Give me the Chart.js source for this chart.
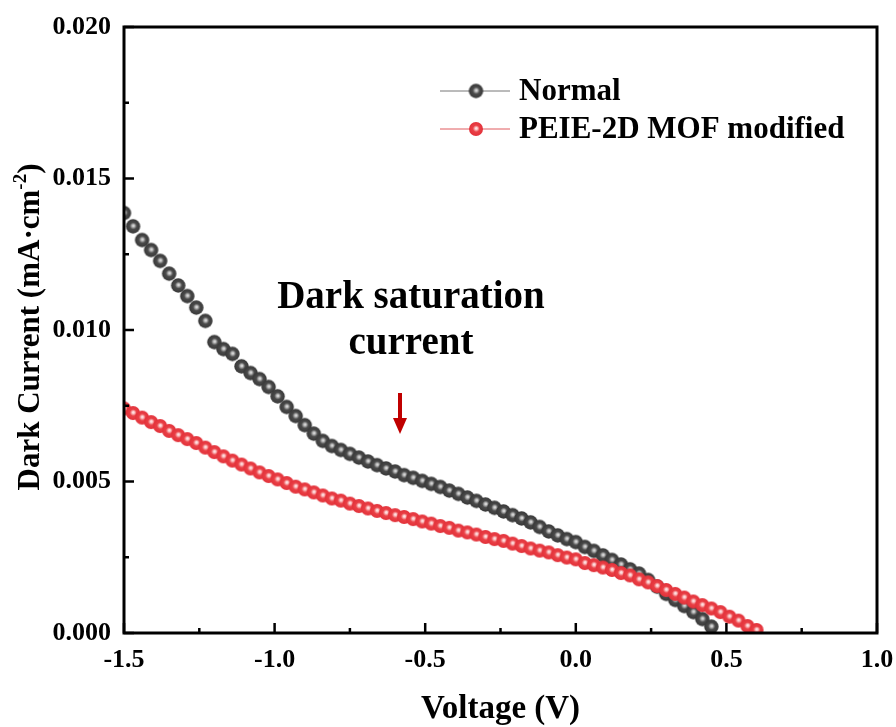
<!DOCTYPE html>
<html>
<head>
<meta charset="utf-8">
<script src="https://cdn.jsdelivr.net/npm/chart.js@4.4.1/dist/chart.umd.min.js"></script>
<style>
  html, body { margin: 0; padding: 0; background: #fff; }
  #wrap { width: 896px; height: 727px; }
</style>
</head>
<body>
<div id="wrap"><canvas id="darkChart" width="896" height="727"></canvas></div>
<script>
// Voltage grid (V)
const voltage = [
  -1.50, -1.47, -1.44, -1.41, -1.38, -1.35, -1.32, -1.29, -1.26, -1.23,
  -1.20, -1.17, -1.14, -1.11, -1.08, -1.05, -1.02, -0.99, -0.96, -0.93,
  -0.90, -0.87, -0.84, -0.81, -0.78, -0.75, -0.72, -0.69, -0.66, -0.63,
  -0.60, -0.57, -0.54, -0.51, -0.48, -0.45, -0.42, -0.39, -0.36, -0.33,
  -0.30, -0.27, -0.24, -0.21, -0.18, -0.15, -0.12, -0.09, -0.06, -0.03,
   0.00,  0.03,  0.06,  0.09,  0.12,  0.15,  0.18,  0.21,  0.24,  0.27,
   0.30,  0.33,  0.36,  0.39,  0.42,  0.45,  0.48,  0.51,  0.54,  0.57,
   0.60
];

// Dark current, normal device (mA/cm2)
const normalCurrent = [
  0.01386, 0.01342, 0.01297, 0.01264, 0.01228, 0.01186, 0.01147, 0.01112, 0.01074, 0.01030,
  0.00960, 0.00937, 0.00921, 0.00880, 0.00858, 0.00838, 0.00812, 0.00781, 0.00746, 0.00716,
  0.00686, 0.00658, 0.00634, 0.00617, 0.00604, 0.00591, 0.00579, 0.00566, 0.00554, 0.00543,
  0.00533, 0.00521, 0.00512, 0.00502, 0.00492, 0.00482, 0.00470, 0.00459, 0.00447, 0.00436,
  0.00424, 0.00413, 0.00401, 0.00389, 0.00378, 0.00365, 0.00350, 0.00335, 0.00322, 0.00310,
  0.00300, 0.00284, 0.00271, 0.00256, 0.00241, 0.00226, 0.00210, 0.00196, 0.00175, 0.00153,
  0.00129, 0.00109, 0.00089, 0.00069, 0.00046, 0.00021
];

// Dark current, PEIE-2D MOF modified device (mA/cm2)
const modifiedCurrent = [
  0.00741, 0.00726, 0.00711, 0.00696, 0.00683, 0.00667, 0.00653, 0.00640, 0.00627, 0.00612,
  0.00597, 0.00583, 0.00569, 0.00556, 0.00543, 0.00530, 0.00518, 0.00507, 0.00495, 0.00483,
  0.00474, 0.00464, 0.00454, 0.00444, 0.00437, 0.00427, 0.00419, 0.00411, 0.00403, 0.00396,
  0.00389, 0.00383, 0.00376, 0.00368, 0.00361, 0.00353, 0.00347, 0.00338, 0.00332, 0.00325,
  0.00317, 0.00310, 0.00304, 0.00295, 0.00287, 0.00279, 0.00272, 0.00266, 0.00257, 0.00249,
  0.00243, 0.00231, 0.00224, 0.00216, 0.00208, 0.00198, 0.00190, 0.00177, 0.00167, 0.00155,
  0.00142, 0.00129, 0.00117, 0.00104, 0.00092, 0.00081, 0.00069, 0.00054, 0.00041, 0.00023,
  0.00010
];

const seriesNames = ['Normal', 'PEIE-2D MOF modified'];
const xTicks = [-1.5, -1.0, -0.5, 0.0, 0.5, 1.0];
const yTicks = [0.000, 0.005, 0.010, 0.015, 0.020];

const FONT = '"Liberation Serif", "Times New Roman", serif';

// shaded ball used as the marker
function makeBall(r, edge, mid, light) {
  const c = document.createElement('canvas');
  const s = Math.ceil(r * 2) + 2;
  c.width = s; c.height = s;
  const g = c.getContext('2d');
  const cx = s / 2, cy = s / 2;
  const grad = g.createRadialGradient(cx + r * 0.05, cy - r * 0.1, 0, cx, cy, r);
  grad.addColorStop(0, light);
  grad.addColorStop(0.12, light);
  grad.addColorStop(0.48, mid);
  grad.addColorStop(1, edge);
  g.fillStyle = grad;
  g.beginPath();
  g.arc(cx, cy, r, 0, Math.PI * 2);
  g.fill();
  return c;
}

const greyBall = makeBall(7.2, '#383838', '#4a4a4a', '#d4d4d4');
const redBall = makeBall(7.0, '#e2313a', '#ea4046', '#ffe0e0');

function toPoints(ys) {
  return ys.map((y, i) => ({ x: voltage[i], y: y }));
}

// inward ticks, frame, legend, annotation and y title
const decorPlugin = {
  id: 'decor',
  afterDraw(chart) {
    const ctx = chart.ctx;
    const xs = chart.scales.x, ys = chart.scales.y;
    const a = chart.chartArea;
    ctx.save();
    ctx.strokeStyle = '#000';
    ctx.lineWidth = 3;
    ctx.strokeRect(a.left, a.top, a.right - a.left, a.bottom - a.top);

    // x ticks
    ctx.lineWidth = 2.5;
    for (let v = -1.5; v <= 1.0001; v += 0.25) {
      const px = xs.getPixelForValue(v);
      const major = Math.abs(v * 2 - Math.round(v * 2)) < 1e-6;
      const len = major ? 10 : 5;
      ctx.beginPath();
      ctx.moveTo(px, a.bottom);
      ctx.lineTo(px, a.bottom - len);
      ctx.stroke();
    }
    // y ticks
    for (let v = 0; v <= 0.02001; v += 0.0025) {
      const py = ys.getPixelForValue(v);
      const major = Math.abs(v / 0.005 - Math.round(v / 0.005)) < 1e-6;
      const len = major ? 10 : 5;
      ctx.beginPath();
      ctx.moveTo(a.left, py);
      ctx.lineTo(a.left + len, py);
      ctx.stroke();
    }

    // legend
    const items = [
      { img: greyBall, line: '#777777', y: 91 },
      { img: redBall, line: '#e05a5e', y: 129 }
    ];
    items.forEach((it, i) => {
      ctx.strokeStyle = it.line;
      ctx.lineWidth = 1;
      ctx.beginPath();
      ctx.moveTo(440, it.y);
      ctx.lineTo(510, it.y);
      ctx.stroke();
      ctx.drawImage(it.img, 476 - it.img.width / 2, it.y - it.img.height / 2);
      ctx.fillStyle = '#000';
      ctx.font = 'bold 31px ' + FONT;
      ctx.textAlign = 'left';
      ctx.textBaseline = 'middle';
      ctx.fillText(seriesNames[i], 519, it.y + 1);
    });

    // annotation
    ctx.font = 'bold 39px ' + FONT;
    ctx.textAlign = 'center';
    ctx.textBaseline = 'middle';
    ctx.fillText('Dark saturation', 411, 298);
    ctx.fillText('current', 411, 344);

    // arrow
    const ax = 400;
    ctx.fillStyle = '#c00000';
    ctx.fillRect(ax - 2, 393, 4, 27);
    ctx.beginPath();
    ctx.moveTo(ax - 7, 418);
    ctx.lineTo(ax + 7, 418);
    ctx.lineTo(ax, 434);
    ctx.closePath();
    ctx.fill();

    // y title with superscript
    ctx.fillStyle = '#000';
    ctx.translate(31, 327);
    ctx.rotate(-Math.PI / 2);
    const big = 'bold 31px ' + FONT, small = 'bold 19px ' + FONT;
    const p1 = 'Dark Current (mA\u00b7cm', p2 = '-2', p3 = ')';
    ctx.font = big;
    const w1 = ctx.measureText(p1).width, w3 = ctx.measureText(p3).width;
    ctx.font = small;
    const w2 = ctx.measureText(p2).width;
    let x0 = -(w1 + w2 + w3) / 2;
    ctx.textAlign = 'left';
    ctx.textBaseline = 'middle';
    ctx.font = big;
    ctx.fillText(p1, x0, 0);
    ctx.font = small;
    ctx.fillText(p2, x0 + w1, -10);
    ctx.font = big;
    ctx.fillText(p3, x0 + w1 + w2, 0);
    ctx.restore();
  }
};

new Chart(document.getElementById('darkChart'), {
  type: 'scatter',
  data: {
    datasets: [
      {
        label: seriesNames[0],
        data: toPoints(normalCurrent),
        pointStyle: greyBall,
        showLine: false,
        order: 2
      },
      {
        label: seriesNames[1],
        data: toPoints(modifiedCurrent),
        pointStyle: redBall,
        showLine: false,
        order: 1
      }
    ]
  },
  options: {
    responsive: false,
    animation: false,
    layout: { autoPadding: false, padding: { top: 27, right: 19, left: 0, bottom: 0 } },
    plugins: { legend: { display: false }, tooltip: { enabled: false } },
    scales: {
      x: {
        type: 'linear',
        min: -1.5,
        max: 1.0,
        afterBuildTicks: s => { s.ticks = xTicks.map(v => ({ value: v })); },
        afterFit: s => { s.height = 94; s.paddingLeft = 0; s.paddingRight = 0; },
        grid: { display: false, drawTicks: false },
        border: { display: false },
        ticks: {
          padding: 12,
          color: '#000',
          font: { family: FONT, size: 26, weight: 'bold' },
          callback: v => v.toFixed(1)
        },
        title: {
          display: true,
          text: 'Voltage (V)',
          color: '#000',
          font: { family: FONT, size: 33, weight: 'bold' },
          padding: { top: 15, bottom: -2 }
        }
      },
      y: {
        type: 'linear',
        min: 0,
        max: 0.02,
        afterBuildTicks: s => { s.ticks = yTicks.map(v => ({ value: v })); },
        afterFit: s => { s.width = 124; s.paddingTop = 0; s.paddingBottom = 0; },
        grid: { display: false, drawTicks: false },
        border: { display: false },
        ticks: {
          padding: 13,
          color: '#000',
          font: { family: FONT, size: 26, weight: 'bold' },
          callback: v => v.toFixed(3)
        }
      }
    }
  },
  plugins: [decorPlugin]
});
</script>
</body>
</html>
